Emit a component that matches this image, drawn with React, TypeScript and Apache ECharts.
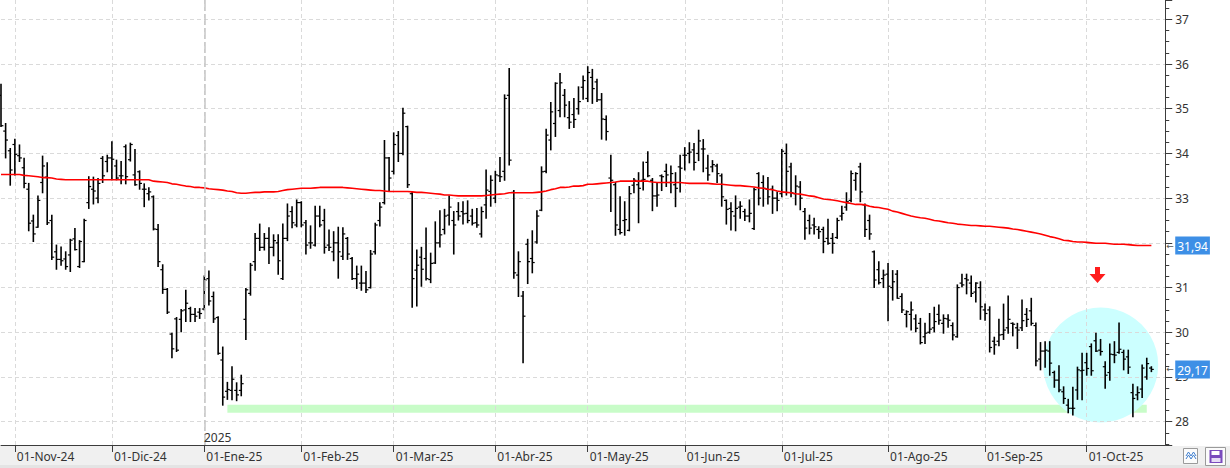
import React, { useEffect, useRef } from 'react';
import * as echarts from 'echarts';

// ---- data (one entry per trading session) ----
const opens = [
  35.3, 34.5, 34.06, 34.2, 33.95, 33.68, 33.2, 32.49, 32.35, 33.35,
  33.47, 32.5, 31.8, 31.63, 31.64, 31.73, 32.09, 31.47, 31.58, 32.9,
  33.2, 33.0, 33.89, 33.82, 33.9, 33.72, 33.5, 34.15, 33.86, 33.52,
  33.59, 33.2, 33.1, 33.03, 32.3, 31.4, 30.96, 29.96, 30.3, 30.29,
  30.5, 30.53, 30.4, 30.45, 30.52, 31.2, 30.8, 30.33, 29.38, 28.68,
  28.7, 28.7, 28.7, 30.29, 30.87, 31.58, 32.1, 31.9, 32.1, 31.9,
  32.0, 31.2, 32.1, 32.7, 32.4, 32.9, 32.45, 32.0, 31.95, 32.6,
  32.5, 31.95, 31.8, 32.0, 31.7, 32.1, 31.65, 31.2, 31.1, 31.1,
  31.0, 31.8, 32.5, 32.9, 33.9, 33.6, 34.4, 34.0, 34.6, 33.1,
  31.39, 31.68, 31.65, 31.18, 31.55, 32.0, 32.3, 32.62, 32.5, 32.7,
  32.7, 32.66, 32.6, 32.45, 32.2, 32.85, 33.15, 33.0, 33.5, 33.6,
  35.3, 33.13, 31.28, 30.81, 31.97, 31.65, 32.02, 32.73, 33.6, 34.3,
  34.67, 34.96, 35.3, 34.8, 34.87, 35.0, 35.48, 35.23, 35.7, 35.6,
  35.2, 34.76, 33.45, 33.3, 32.3, 32.5, 32.28, 33.29, 33.3, 33.4,
  33.8, 33.4, 33.05, 33.5, 33.6, 33.35, 33.3, 33.7, 33.96, 34.0,
  34.08, 34.0, 34.1, 33.67, 33.7, 33.72, 33.5, 32.95, 32.77, 32.6,
  32.8, 32.7, 32.6, 32.32, 33.55, 33.35, 33.2, 33.2, 33.0, 33.1,
  34.0, 33.7, 33.1, 33.25, 32.7, 32.5, 32.4, 32.3, 32.3, 32.1,
  32.1, 32.12, 32.6, 32.8, 32.95, 33.4, 33.7, 32.85, 32.5, 31.8,
  31.4, 31.2, 31.3, 31.0, 31.3, 30.8, 30.4, 30.4, 30.3, 30.2,
  29.9, 30.0, 30.1, 30.4, 30.2, 30.3, 30.15, 29.9, 31.1, 31.2,
  31.1, 30.9, 31.0, 30.5, 30.5, 29.8, 29.8, 29.95, 30.1, 30.2,
  30.1, 30.1, 30.4, 30.48, 30.15, 29.4, 29.58, 29.58, 29.1, 28.93,
  28.67, 28.37, 28.3, 28.71, 29.14, 29.32, 29.68, 29.81, 29.6, 29.23,
  29.1, 29.5, 29.55, 29.55, 29.45, 28.65, 28.6, 28.73, 29.0, 29.2,
];

const highs = [
  35.55, 34.67, 34.11, 34.32, 34.19, 33.89, 33.33, 32.62, 33.05, 33.94,
  33.79, 32.62, 31.95, 31.91, 31.8, 32.08, 32.32, 32.05, 32.53, 33.48,
  33.47, 33.44, 33.93, 33.96, 34.26, 33.85, 33.82, 34.19, 34.23, 34.09,
  33.61, 33.32, 33.23, 33.05, 32.41, 31.51, 30.98, 29.98, 30.33, 30.51,
  30.94, 30.56, 30.53, 30.53, 31.26, 31.37, 30.9, 30.35, 29.67, 28.88,
  29.23, 28.87, 29.04, 30.98, 31.54, 32.21, 32.42, 32.21, 32.34, 32.18,
  32.18, 32.42, 32.87, 32.81, 32.96, 32.92, 32.5, 32.38, 32.82, 32.82,
  32.75, 32.29, 32.25, 32.35, 32.34, 32.12, 31.67, 31.48, 31.48, 31.36,
  31.83, 32.44, 32.9, 34.29, 33.91, 34.46, 34.49, 35.01, 34.61, 33.15,
  31.84, 31.9, 32.33, 31.77, 32.47, 32.72, 32.75, 33.05, 32.7, 32.9,
  32.92, 32.94, 32.75, 32.77, 32.8, 33.63, 33.5, 33.6, 33.91, 35.31,
  35.9, 33.17, 31.8, 30.91, 32.08, 32.27, 32.72, 33.7, 34.54, 35.14,
  35.58, 35.79, 35.43, 35.16, 35.23, 35.49, 35.73, 35.94, 35.88, 35.66,
  35.34, 34.84, 33.96, 33.35, 33.03, 32.92, 33.26, 33.44, 33.57, 33.81,
  34.04, 33.44, 33.33, 33.52, 33.76, 33.72, 33.57, 33.96, 34.13, 34.24,
  34.22, 34.52, 34.31, 33.96, 33.84, 33.76, 33.54, 32.96, 32.9, 33.05,
  32.92, 32.75, 32.96, 33.22, 33.57, 33.5, 33.46, 33.27, 33.14, 34.09,
  34.21, 33.78, 33.5, 33.37, 32.77, 32.62, 32.55, 32.36, 32.35, 32.53,
  32.21, 32.55, 32.82, 33.12, 33.61, 33.57, 33.78, 32.87, 32.62, 31.82,
  31.58, 31.39, 31.54, 31.38, 31.38, 30.86, 30.48, 30.68, 30.39, 30.31,
  30.2, 30.42, 30.56, 30.61, 30.39, 30.39, 30.21, 31.06, 31.3, 31.3,
  31.26, 31.11, 31.13, 30.63, 30.57, 29.89, 30.29, 30.63, 30.81, 30.21,
  30.2, 30.72, 30.53, 30.76, 30.21, 29.77, 29.79, 29.79, 29.13, 29.25,
  28.78, 28.5, 28.77, 29.22, 29.53, 29.53, 29.74, 29.98, 29.84, 29.34,
  29.74, 29.79, 30.21, 29.6, 29.6, 28.84, 28.78, 29.27, 29.42, 29.23,
];

const lows = [
  34.6, 33.9, 33.29, 33.52, 33.82, 33.23, 32.27, 32.03, 32.35, 33.12,
  32.41, 31.63, 31.41, 31.5, 31.41, 31.36, 31.84, 31.45, 31.58, 32.77,
  32.87, 32.9, 33.35, 33.59, 33.41, 33.41, 33.32, 33.32, 33.83, 33.29,
  33.2, 32.81, 32.96, 32.29, 31.47, 30.87, 30.42, 29.43, 29.57, 30.01,
  30.24, 30.24, 30.24, 30.31, 30.5, 30.61, 30.22, 29.51, 28.37, 28.5,
  28.49, 28.47, 28.58, 29.84, 30.83, 31.39, 31.83, 31.84, 31.54, 31.71,
  31.3, 31.18, 32.05, 32.34, 32.36, 32.36, 31.75, 31.88, 31.93, 32.36,
  31.77, 31.83, 31.6, 31.21, 31.63, 31.63, 31.18, 30.98, 30.94, 30.89,
  30.99, 31.75, 32.38, 32.87, 33.17, 33.54, 33.82, 33.97, 33.24, 30.56,
  30.59, 31.03, 31.17, 31.11, 31.54, 31.91, 32.2, 32.4, 31.75, 32.51,
  32.42, 32.45, 32.4, 32.35, 32.13, 32.55, 32.82, 32.9, 33.37, 33.4,
  33.74, 31.21, 30.8, 29.32, 31.09, 31.33, 31.99, 32.72, 33.57, 34.08,
  34.38, 34.82, 34.82, 34.56, 34.58, 34.88, 35.21, 35.16, 35.12, 35.16,
  34.32, 34.3, 32.7, 32.17, 32.2, 32.17, 32.27, 33.12, 32.45, 33.18,
  33.48, 32.72, 32.82, 33.17, 33.26, 33.12, 32.81, 33.14, 33.63, 33.79,
  33.63, 33.84, 33.59, 33.4, 33.59, 33.35, 32.82, 32.42, 32.29, 32.27,
  32.55, 32.5, 32.47, 32.3, 32.85, 32.82, 32.87, 32.66, 32.72, 33.03,
  33.07, 33.03, 32.85, 32.74, 32.08, 32.2, 32.2, 32.1, 31.78, 31.97,
  31.77, 32.1, 32.51, 32.73, 32.92, 33.18, 32.92, 32.14, 32.08, 31.0,
  31.08, 31.0, 30.26, 30.72, 30.76, 30.44, 30.12, 30.05, 30.01, 29.74,
  29.75, 29.98, 30.01, 30.18, 29.98, 30.11, 29.83, 29.89, 31.02, 30.86,
  30.8, 30.68, 30.29, 30.27, 29.56, 29.51, 29.7, 29.84, 29.98, 29.92,
  29.64, 30.04, 30.13, 30.16, 29.25, 29.16, 29.22, 29.04, 28.77, 28.67,
  28.41, 28.2, 28.15, 28.5, 28.49, 29.04, 29.04, 29.57, 29.49, 28.75,
  28.93, 29.32, 29.53, 29.16, 29.08, 28.11, 28.49, 28.54, 28.95, 29.12,
];

const closes = [
  34.62, 34.3, 33.63, 33.98, 33.9, 33.33, 32.44, 32.2, 32.95, 33.72,
  32.45, 31.68, 31.63, 31.6, 31.47, 32.06, 31.85, 32.03, 32.5, 33.26,
  33.16, 33.33, 33.5, 33.9, 33.87, 33.45, 33.5, 33.48, 34.2, 33.3,
  33.33, 33.2, 33.14, 32.31, 31.58, 30.96, 30.45, 29.63, 29.6, 30.48,
  30.65, 30.4, 30.36, 30.42, 31.17, 30.7, 30.3, 29.53, 28.55, 28.72,
  28.95, 28.6, 28.85, 30.95, 31.5, 32.1, 31.9, 32.1, 31.9, 32.05,
  31.6, 32.1, 32.6, 32.45, 32.9, 32.4, 31.95, 32.0, 32.6, 32.4,
  31.9, 31.9, 32.0, 31.8, 32.2, 31.75, 31.2, 31.3, 31.1, 30.95,
  31.75, 32.4, 32.8, 33.9, 33.45, 34.2, 34.0, 34.9, 33.3, 31.2,
  31.5, 31.41, 31.2, 31.54, 32.0, 32.18, 32.6, 32.8, 32.4, 32.6,
  32.65, 32.5, 32.44, 32.4, 32.7, 33.18, 33.4, 33.52, 33.48, 35.23,
  33.85, 31.33, 31.58, 30.36, 31.58, 31.56, 32.6, 33.59, 34.41, 34.93,
  35.57, 35.58, 35.08, 34.7, 34.76, 35.16, 35.63, 35.81, 35.45, 35.2,
  34.77, 34.49, 33.4, 32.4, 32.23, 32.52, 33.1, 33.4, 33.22, 33.42,
  33.5, 33.05, 33.07, 33.48, 33.52, 33.55, 33.22, 33.67, 33.96, 34.03,
  33.8, 34.28, 34.1, 33.52, 33.75, 33.55, 33.03, 32.75, 32.7, 32.77,
  32.82, 32.6, 32.66, 33.19, 33.0, 33.22, 33.03, 33.0, 32.95, 34.05,
  33.6, 33.12, 33.27, 33.0, 32.33, 32.33, 32.36, 32.25, 32.03, 31.99,
  31.99, 32.5, 32.66, 32.92, 33.55, 33.55, 33.14, 32.3, 32.2, 31.17,
  31.11, 31.28, 31.03, 31.13, 30.76, 30.5, 30.46, 30.5, 30.09, 29.77,
  29.98, 30.07, 30.24, 30.27, 30.31, 30.27, 29.94, 31.0, 31.06, 31.17,
  30.87, 31.1, 30.57, 30.42, 29.66, 29.72, 29.94, 30.05, 30.29, 30.18,
  30.05, 30.26, 30.29, 30.2, 29.36, 29.58, 29.6, 29.31, 28.93, 28.71,
  28.52, 28.3, 28.3, 29.16, 29.15, 29.19, 29.14, 29.58, 29.57, 29.04,
  29.51, 29.49, 29.62, 29.4, 29.22, 28.52, 28.65, 29.2, 29.3, 29.17,
];

// red moving average, read bar by bar
const movingAvg = [
  33.53, 33.53, 33.53, 33.53, 33.53, 33.51, 33.5, 33.49, 33.48, 33.46,
  33.46, 33.45, 33.43, 33.42, 33.41, 33.41, 33.41, 33.41, 33.41, 33.41,
  33.41, 33.41, 33.41, 33.41, 33.41, 33.41, 33.41, 33.41, 33.41, 33.41,
  33.41, 33.41, 33.41, 33.38, 33.37, 33.36, 33.35, 33.32, 33.31, 33.29,
  33.27, 33.26, 33.24, 33.24, 33.23, 33.21, 33.2, 33.19, 33.18, 33.16,
  33.15, 33.12, 33.11, 33.11, 33.12, 33.13, 33.13, 33.14, 33.14, 33.14,
  33.15, 33.17, 33.19, 33.2, 33.21, 33.22, 33.22, 33.22, 33.23, 33.24,
  33.24, 33.24, 33.24, 33.24, 33.24, 33.23, 33.22, 33.21, 33.2, 33.19,
  33.18, 33.17, 33.17, 33.16, 33.15, 33.15, 33.15, 33.15, 33.15, 33.14,
  33.13, 33.13, 33.12, 33.11, 33.1, 33.09, 33.07, 33.07, 33.06, 33.05,
  33.05, 33.05, 33.05, 33.05, 33.05, 33.06, 33.07, 33.08, 33.09, 33.1,
  33.12, 33.12, 33.12, 33.12, 33.12, 33.12, 33.13, 33.14, 33.16, 33.19,
  33.21, 33.24, 33.24, 33.25, 33.27, 33.27, 33.28, 33.31, 33.31, 33.32,
  33.33, 33.34, 33.35, 33.36, 33.38, 33.38, 33.38, 33.38, 33.38, 33.38,
  33.38, 33.36, 33.35, 33.35, 33.35, 33.35, 33.35, 33.35, 33.34, 33.33,
  33.33, 33.33, 33.33, 33.33, 33.32, 33.31, 33.31, 33.3, 33.29, 33.28,
  33.28, 33.27, 33.26, 33.25, 33.23, 33.22, 33.2, 33.19, 33.16, 33.14,
  33.13, 33.12, 33.1, 33.09, 33.07, 33.05, 33.04, 33.01, 32.98, 32.97,
  32.96, 32.94, 32.92, 32.9, 32.88, 32.86, 32.86, 32.85, 32.82, 32.8,
  32.79, 32.77, 32.75, 32.71, 32.69, 32.66, 32.63, 32.6, 32.58, 32.56,
  32.55, 32.53, 32.5, 32.49, 32.47, 32.45, 32.44, 32.42, 32.41, 32.4,
  32.39, 32.39, 32.38, 32.37, 32.37, 32.36, 32.35, 32.34, 32.33, 32.31,
  32.3, 32.28, 32.26, 32.24, 32.22, 32.2, 32.17, 32.14, 32.12, 32.09,
  32.06, 32.05, 32.03, 32.02, 32.02, 32.01, 32.0, 31.99, 31.99, 31.99,
  31.98, 31.97, 31.97, 31.97, 31.96, 31.95, 31.94, 31.94, 31.94, 31.94,
];

// x-axis tick labels: first session of each month (bar index) and its label
const monthStartIdx = [3, 24, 44, 65, 85, 107, 127, 148, 169, 192, 213, 235];
const monthLabels = [
  '01-Nov-24', '01-Dic-24', '01-Ene-25', '01-Feb-25', '01-Mar-25', '01-Abr-25',
  '01-May-25', '01-Jun-25', '01-Jul-25', '01-Ago-25', '01-Sep-25', '01-Oct-25',
];
const yearStartIdx = 44;
const yearLabel = '2025';

// green support band
const supportLevel = 28.29;
const supportStartIdx = 49;
const supportEndIdx = 248;

const extraSlots = 3;
const yMin = 27.479;
const yMax = 37.432;

const FONT = '"Noto Sans", "Liberation Sans", Arial, sans-serif';

export default function App() {
  const ref = useRef<HTMLDivElement>(null);

  useEffect(() => {
    document.body.style.margin = '0';
    const el = ref.current as HTMLDivElement;
    const chart = echarts.init(el, null, { renderer: 'svg' });

    const N = closes.length;
    const categories = Array.from({ length: N + extraSlots }, (_, i) => 'b' + i);
    const labelAt: Record<number, string> = {};
    monthStartIdx.forEach((k, j) => { labelAt[k] = monthLabels[j]; });
    const isMonthStart = (i: number) => labelAt[i] !== undefined;
    const ohlc = closes.map((c, i) => [i, opens[i], highs[i], lows[i], c]);
    const fmt = (v: number) => v.toFixed(2).replace('.', ',');

    const hiddenLine = { color: 'rgba(0,0,0,0)', width: 0 };

    const priceTag = (text: string) => ({
      show: true,
      position: 'end',
      distance: 1,
      formatter: '{a|←}{b|' + text + '}',
      rich: {
        a: { fontFamily: 'DejaVu Sans', fontSize: 9, color: '#555555', width: 9, align: 'left' },
        b: {
          backgroundColor: '#3d8fe6', color: '#ffffff', fontFamily: FONT, fontSize: 12,
          padding: [4, 2, 2, 2], lineHeight: 14,
        },
      },
    });

    const option: any = {
      animation: false,
      backgroundColor: '#ffffff',
      grid: { left: 1, right: 64.76, top: 0, bottom: 23, containLabel: false, outerBoundsMode: 'none' },
      xAxis: {
        type: 'category',
        data: categories,
        boundaryGap: false,
        axisLine: { show: true, lineStyle: { color: '#3c3c3c', width: 1 } },
        axisTick: { show: true, interval: (i: number) => isMonthStart(i), length: 7, lineStyle: { color: '#3c3c3c' } },
        axisLabel: {
          show: true,
          interval: (i: number) => isMonthStart(i),
          formatter: (_v: string, i: number) => labelAt[i] ?? '',
          align: 'left',
          padding: [0, 0, 0, 2],
          margin: 5,
          fontSize: 12,
          fontFamily: FONT,
          color: '#333333',
        },
        splitLine: { show: true, interval: (i: number) => isMonthStart(i), lineStyle: { color: '#dadada', type: [4, 3], width: 1 } },
      },
      yAxis: {
        type: 'value',
        position: 'right',
        min: yMin,
        max: yMax,
        splitNumber: 10,
        axisLine: { show: true, lineStyle: { color: '#3c3c3c', width: 1 } },
        axisTick: { show: true, length: 7, lineStyle: { color: '#3c3c3c' } },
        minorTick: { show: true, splitNumber: 4, length: 4, lineStyle: { color: '#3c3c3c' } },
        axisLabel: {
          margin: 10,
          fontSize: 12,
          fontFamily: FONT,
          color: '#333333',
          showMinLabel: false,
          showMaxLabel: false,
          formatter: (v: number) => (Math.abs(v - Math.round(v)) < 1e-6 ? String(Math.round(v)) : ''),
        },
        splitLine: { show: true, showMinLine: false, showMaxLine: false, lineStyle: { color: '#dadada', type: [4, 3], width: 1 } },
      },
      series: [
        {
          type: 'custom',
          name: 'OHLC',
          data: ohlc,
          encode: { x: 0, y: [1, 2, 3, 4] },
          z: 3,
          silent: true,
          renderItem: (_p: any, api: any) => {
            const i = api.value(0);
            const top = api.coord([i, api.value(2)]);
            const bot = api.coord([i, api.value(3)]);
            const op = api.coord([i, api.value(1)]);
            const cl = api.coord([i, api.value(4)]);
            const x = top[0];
            return {
              type: 'group',
              children: [
                { type: 'line', shape: { x1: x, y1: top[1] - 0.5, x2: x, y2: bot[1] + 0.5 }, style: { stroke: '#000000', lineWidth: 1.6 } },
                { type: 'line', shape: { x1: x - 2.4, y1: op[1], x2: x, y2: op[1] }, style: { stroke: '#000000', lineWidth: 1.2 } },
                { type: 'line', shape: { x1: x, y1: cl[1], x2: x + 2.4, y2: cl[1] }, style: { stroke: '#000000', lineWidth: 1.2 } },
              ],
            };
          },
          markLine: {
            silent: true,
            symbol: ['none', 'none'],
            animation: false,
            lineStyle: hiddenLine,
            data: [
              {
                xAxis: categories[yearStartIdx],
                lineStyle: { color: '#c6c6c6', width: 1.5, type: [11, 3] },
                label: { show: false },
              },
              { yAxis: closes[N - 1], lineStyle: hiddenLine, label: priceTag(fmt(closes[N - 1])) },
            ],
          },
        },
        {
          type: 'line',
          name: 'MA',
          data: movingAvg,
          showSymbol: false,
          symbol: 'none',
          silent: true,
          z: 4,
          lineStyle: { color: '#ff0000', width: 1.6 },
          markLine: {
            silent: true,
            symbol: ['none', 'none'],
            animation: false,
            lineStyle: hiddenLine,
            data: [{ yAxis: movingAvg[N - 1], lineStyle: hiddenLine, label: priceTag(fmt(movingAvg[N - 1])) }],
          },
        },
      ],
    };

    chart.setOption(option);

    const p1 = chart.convertToPixel({ gridIndex: 0 } as any, [supportStartIdx, supportLevel]) as number[];
    const p2 = chart.convertToPixel({ gridIndex: 0 } as any, [supportEndIdx, supportLevel]) as number[];

    chart.setOption({
      graphic: [
        { type: 'rect', silent: true, z: -30, shape: { x: 0, y: 446, width: 1230, height: 22 }, style: { fill: '#f0f0f0' } },
        { type: 'rect', silent: true, z: -29, shape: { x: 0, y: 465, width: 1230, height: 3 }, style: { fill: '#e4e4e4' } },
        { type: 'rect', silent: true, z: -20, shape: { x: p1[0], y: p1[1] - 4, width: p2[0] - p1[0], height: 8 }, style: { fill: '#c8fcc8' } },
        { type: 'circle', silent: true, z: -10, shape: { cx: 1100.7, cy: 365, r: 57.5 }, style: { fill: '#ccffff' } },
        {
          type: 'polygon', silent: true, z: 100,
          shape: { points: [[1095, 267], [1100, 267], [1100, 274], [1105.5, 274], [1097.5, 283], [1089.5, 274], [1095, 274]] },
          style: { fill: '#ff1c1c' },
        },
        {
          type: 'text', silent: true, z: 50, x: 204, y: 437,
          style: { text: yearLabel, fontSize: 12, fontFamily: FONT, fill: '#333333', verticalAlign: 'middle', align: 'left' },
        },
        // small toolbar icons at bottom right
        { type: 'rect', silent: true, z: 60, shape: { x: 1183.5, y: 448.5, width: 14, height: 15 }, style: { fill: '#fbfbfb', stroke: '#9a9a9a', lineWidth: 1 } },
        { type: 'polyline', silent: true, z: 61, shape: { points: [[1186, 456], [1188.5, 452], [1191, 456], [1193.5, 452], [1196, 456]] }, style: { stroke: '#3f7fd0', lineWidth: 1, fill: null } },
        { type: 'polyline', silent: true, z: 61, shape: { points: [[1186, 459], [1188.5, 455], [1191, 459], [1193.5, 455], [1196, 459]] }, style: { stroke: '#3f7fd0', lineWidth: 1, fill: null } },
        { type: 'rect', silent: true, z: 60, shape: { x: 1205.5, y: 447.5, width: 20, height: 18 }, style: { fill: '#fbfbfb', stroke: '#9a9a9a', lineWidth: 1 } },
        { type: 'rect', silent: true, z: 61, shape: { x: 1209.5, y: 450, width: 13, height: 13 }, style: { fill: '#7a4bbd' } },
        { type: 'rect', silent: true, z: 62, shape: { x: 1211.5, y: 451, width: 8, height: 4 }, style: { fill: '#ffffff' } },
        { type: 'rect', silent: true, z: 62, shape: { x: 1211.5, y: 458, width: 9, height: 4 }, style: { fill: '#e6dcf5' } },
      ],
    });

    return () => chart.dispose();
  }, []);

  return (
    <div
      ref={ref}
      style={{ position: 'absolute', left: 0, top: 0, width: 1230, height: 468, background: '#ffffff' }}
    />
  );
}
